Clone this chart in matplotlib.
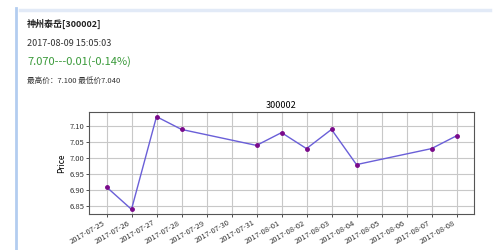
import matplotlib
matplotlib.use('Agg')
import matplotlib.pyplot as plt
import matplotlib.dates as mdates
from matplotlib.ticker import MultipleLocator, FormatStrFormatter
import datetime as dt

plt.rcParams['font.family'] = ['Noto Sans CJK SC', 'DejaVu Sans']

# data
dates = ['2017-07-25', '2017-07-26', '2017-07-27', '2017-07-28', '2017-07-31',
         '2017-08-01', '2017-08-02', '2017-08-03', '2017-08-04', '2017-08-07',
         '2017-08-08']
prices = [6.91, 6.84, 7.13, 7.09, 7.04, 7.08, 7.03, 7.09, 6.98, 7.03, 7.07]
code = '300002'
name = '神州泰岳[300002]'
timestamp = '2017-08-09 15:05:03'
change_text = '7.070---0.01(-0.14%)'
range_text = '最高价：7.100 最低价7.040'

x = [dt.datetime.strptime(d, '%Y-%m-%d') for d in dates]

fig = plt.figure(figsize=(5, 2.5), dpi=100)

# page decorations
fig.add_artist(plt.Line2D([0.031, 0.031], [0, 0.968], color='#b3cdf0', lw=2))
fig.add_artist(plt.Line2D([0.04, 0.98], [0.96, 0.96], color='#e2eaf7', lw=2.5))

fig.text(0.054, 0.905, name, fontsize=6.5, fontweight='bold', color='#222222', va='center')
fig.text(0.054, 0.828, timestamp, fontsize=6.5, color='#333333', va='center')
fig.text(0.054, 0.752, change_text, fontsize=8, color='#3a9a3a', va='center')
fig.text(0.054, 0.678, range_text, fontsize=5.5, color='#333333', va='center')

ax = fig.add_axes([0.178, 0.144, 0.77, 0.408])
ax.plot(x, prices, color='#6a5fd8', lw=1, marker='o', markersize=2.5,
        markerfacecolor='#7a0a8a', markeredgecolor='#7a0a8a')
ax.set_title(code, fontsize=6.5, pad=3)
ax.set_ylabel('Price', fontsize=6, labelpad=2)
ax.xaxis.set_major_locator(mdates.DayLocator())
ax.xaxis.set_major_formatter(mdates.DateFormatter('%Y-%m-%d'))
ax.yaxis.set_major_locator(MultipleLocator(0.05))
ax.yaxis.set_major_formatter(FormatStrFormatter('%.2f'))
ax.grid(True, color='#c8c8c8', lw=0.8)
ax.tick_params(axis='both', labelsize=5.5, length=2, width=0.6, pad=1.5, colors='#333333')
for lab in ax.get_xticklabels():
    lab.set_rotation(30)
    lab.set_ha('right')
for s in ax.spines.values():
    s.set_color('#555555')
    s.set_linewidth(0.8)

fig.savefig('out.png', dpi=100)
